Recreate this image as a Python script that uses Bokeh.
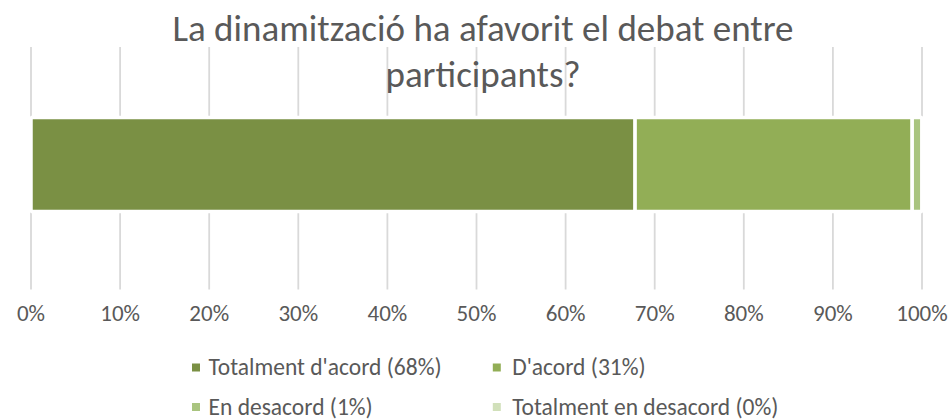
from bokeh.plotting import figure
from bokeh.models import Range1d, ColumnDataSource
from bokeh.core.properties import value
from bokeh.embed import file_html
from bokeh.resources import INLINE

# ---- data ----
title_lines = ["La dinamització ha afavorit el debat entre", "participants?"]
categories = ["Totalment d'acord (68%)", "D'acord (31%)", "En desacord (1%)", "Totalment en desacord (0%)"]
values = [67.8, 31.1, 1.1, 0.0]
colors = ["#7A9044", "#92AE56", "#A9C47F", "#D1E0BA"]
tick_values = [0, 10, 20, 30, 40, 50, 60, 70, 80, 90, 100]
tick_labels = ["0%", "10%", "20%", "30%", "40%", "50%", "60%", "70%", "80%", "90%", "100%"]

# ---- layout (pixels) ----
W, H = 949, 420
X0_PX, X100_PX = 30.5, 921.5
ppu = (X100_PX - X0_PX) / 100.0
FONT = value("Carlito, Lato, sans-serif")
TXT = "#595959"

p = figure(width=W, height=H, output_backend="svg", toolbar_location=None,
           x_range=Range1d(-X0_PX / ppu, (W - X0_PX) / ppu),
           y_range=Range1d(H, 0),
           min_border=0, x_axis_type=None, y_axis_type=None)
p.outline_line_color = None
p.grid.visible = False
p.background_fill_color = "white"
p.border_fill_color = "white"

# vertical gridlines
p.segment(x0=tick_values, x1=tick_values, y0=[46.5] * len(tick_values), y1=[289] * len(tick_values),
          line_color="#D9D9D9", line_width=1.8)

# stacked bar
keys = ["s%d" % i for i in range(len(values))]
src = ColumnDataSource({"y": [164.0], **{k: [v] for k, v in zip(keys, values)}})
p.hbar_stack(keys, y="y", height=94, color=colors, source=src,
             line_color="white", line_width=3.5)

# tick labels
p.text(x=tick_values, y=[312.0] * len(tick_values), text=tick_labels,
       text_align="center", text_baseline="alphabetic",
       text_font=FONT, text_font_size="23px", text_color=TXT)

# title
title_x = (482.5 - X0_PX) / ppu
p.text(x=[title_x, title_x], y=[27.7, 74.0], text=title_lines,
       text_align="center", text_baseline="alphabetic",
       text_font=FONT, text_font_size="37px", text_color=TXT)

# legend (2 columns x 2 rows)
col_sq = [195.5, 496.3]
col_tx = [208.0, 511.7]
row_sq = [367.0, 406.5]
row_base = [366.7, 406.0]
lx, ly, tx, ty = [], [], [], []
for i in range(len(categories)):
    r, c = divmod(i, 2)
    lx.append((col_sq[c] - X0_PX) / ppu)
    ly.append(row_sq[r])
    tx.append((col_tx[c] - X0_PX) / ppu)
    ty.append(row_base[r])
p.scatter(x=lx, y=ly, marker="square", size=8, fill_color=colors, line_color=None)
p.text(x=tx, y=ty, text=categories, text_align="left", text_baseline="alphabetic",
       text_font=FONT, text_font_size="23.5px", text_color=TXT)

open("out.html", "w").write(file_html(p, INLINE))
